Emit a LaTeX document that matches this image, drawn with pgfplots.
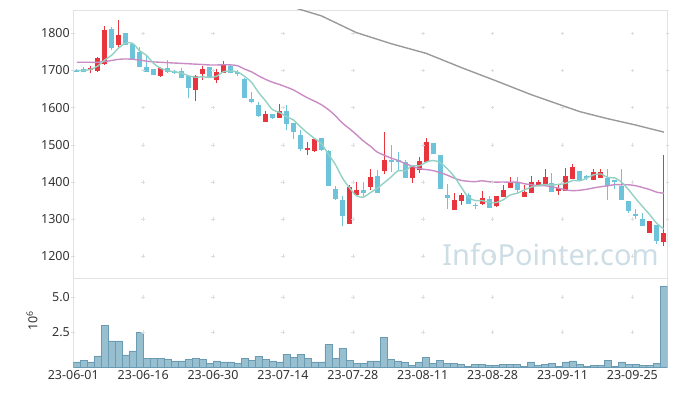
\documentclass[border=0pt]{standalone}
\usepackage{fontspec}
\setmainfont{Noto Sans}
\usepackage{pgfplots}
\pgfplotsset{compat=1.18}
\usepackage{pgfplotstable}

\definecolor{upc}{HTML}{E8343C}
\definecolor{dnc}{HTML}{6CC3DA}
\definecolor{mafc}{HTML}{93D1C5}
\definecolor{matc}{HTML}{C98BC4}
\definecolor{masc}{HTML}{9A9A9A}
\definecolor{volf}{HTML}{97BFCF}
\definecolor{vold}{HTML}{6A9BB3}
\definecolor{axc}{HTML}{E3E3E3}
\definecolor{gridc}{HTML}{DDDDDD}
\definecolor{txt}{HTML}{333333}
\definecolor{wm}{HTML}{CCDDE6}

% up candles (close > open)
\pgfplotstableread{
i o h l c
2 1701 1713 1692 1706
3 1699 1737 1697 1733
4 1718 1820 1716 1808
6 1769 1835 1762 1795
12 1685 1708 1683 1706
17 1648 1688 1617 1685
18 1690 1713 1673 1704
20 1674 1703 1667 1695
21 1694 1725 1692 1715
27 1562 1590 1561 1582
29 1572 1611 1571 1590
33 1487 1507 1473 1490
34 1485 1516 1481 1515
39 1287 1392 1286 1385
40 1366 1400 1365 1377
42 1386 1436 1379 1413
44 1431 1535 1422 1459
48 1411 1443 1398 1438
49 1433 1466 1423 1456
50 1454 1517 1453 1506
54 1326 1369 1324 1351
55 1349 1371 1338 1364
58 1341 1376 1337 1355
60 1335 1361 1333 1360
61 1360 1391 1359 1378
62 1384 1414 1383 1400
64 1360 1391 1359 1373
65 1371 1416 1370 1400
66 1389 1405 1388 1400
67 1396 1436 1395 1412
69 1376 1391 1365 1382
70 1376 1437 1375 1415
71 1409 1447 1408 1438
74 1407 1434 1406 1425
75 1412 1434 1411 1425
82 1264 1295 1263 1294
84 1238 1472 1227 1261
}\upc

% down candles (close < open)
\pgfplotstableread{
i o h l c
0 1700 1705 1695 1697
1 1703 1709 1695 1697
5 1811 1816 1755 1762
7 1800 1801 1768 1770
8 1770 1773 1728 1729
9 1750 1763 1708 1709
10 1709 1742 1697 1698
11 1703 1704 1688 1688
13 1705 1729 1694 1696
14 1698 1700 1690 1694
15 1697 1706 1679 1680
16 1683 1684 1625 1653
19 1709 1710 1683 1684
22 1712 1714 1692 1694
23 1695 1700 1686 1690
24 1677 1680 1625 1626
25 1622 1643 1612 1616
26 1607 1615 1576 1577
28 1582 1583 1569 1572
30 1590 1606 1540 1557
31 1557 1557 1516 1535
32 1526 1540 1483 1490
35 1517 1518 1484 1486
36 1483 1485 1389 1391
37 1380 1390 1352 1354
38 1350 1362 1282 1308
41 1377 1400 1361 1371
43 1415 1432 1369 1370
45 1459 1499 1427 1455
46 1458 1481 1431 1455
47 1454 1459 1410 1411
51 1503 1504 1475 1477
52 1472 1473 1380 1382
53 1364 1393 1328 1357
56 1364 1371 1341 1342
57 1338 1342 1328 1335
59 1353 1361 1329 1330
63 1400 1412 1371 1378
68 1396 1423 1372 1373
72 1429 1430 1404 1406
73 1414 1418 1405 1411
76 1411 1434 1352 1391
77 1403 1405 1382 1400
78 1389 1434 1350 1351
79 1348 1349 1317 1322
80 1313 1326 1301 1309
81 1299 1316 1280 1281
83 1283 1284 1233 1241
}\dnc

% 5-day average
\pgfplotstableread{
i m
0 1700
1 1700
2 1703
3 1712
4 1728.4
5 1741.2
6 1760.8
7 1773.6
8 1772.8
9 1753.0
10 1740.2
11 1718.8
12 1706.0
13 1699.4
14 1696.4
15 1692.8
16 1685.8
17 1681.6
18 1683.0
19 1681.2
20 1684.4
21 1696.6
22 1698.6
23 1696.0
24 1684.2
25 1668.2
26 1641.0
27 1618.4
28 1594.6
29 1587.2
30 1575.4
31 1566.8
32 1548.4
33 1532.0
34 1517.2
35 1503.0
36 1474.2
37 1447.0
38 1410.8
39 1384.8
40 1363.0
41 1359.0
42 1370.8
43 1383.2
44 1398.0
45 1413.6
46 1430.4
47 1430.0
48 1443.6
49 1443.0
50 1453.2
51 1457.6
52 1451.8
53 1435.6
54 1414.6
55 1386.2
56 1359.2
57 1349.8
58 1349.4
59 1345.2
60 1344.4
61 1351.6
62 1364.6
63 1369.2
64 1377.8
65 1385.8
66 1390.2
67 1392.6
68 1391.6
69 1393.4
70 1396.4
71 1404.0
72 1402.8
73 1410.6
74 1419.2
75 1421.2
76 1411.8
77 1410.6
78 1398.4
79 1377.8
80 1354.6
81 1332.6
82 1311.4
83 1288.2
84 1273.4
}\mafive

% 20-day average
\pgfplotstableread{
i m
0 1722
1 1722
2 1722
3 1722
4 1724
5 1727
6 1730
7 1731
8 1730
9 1728
10 1725
11 1723
12 1722
13 1721
14 1720
15 1719
16 1718
17 1717
18 1716
19 1714.8
20 1714.7
21 1715.5
22 1715.0
23 1712.8
24 1703.7
25 1696.4
26 1685.6
27 1676.2
28 1668.3
29 1662.3
30 1655.2
31 1647.6
32 1636.8
33 1626.4
34 1617.5
35 1607.8
36 1594.7
37 1578.1
38 1558.4
39 1543.4
40 1527.4
41 1510.3
42 1496.2
43 1480.2
44 1471.8
45 1463.8
46 1457.6
47 1449.1
48 1442.4
49 1435.8
50 1433.2
51 1430.3
52 1424.9
53 1418.3
54 1410.1
55 1404.0
56 1401.6
57 1400.6
58 1403.0
59 1400.2
60 1399.4
61 1399.7
62 1399.1
63 1399.5
64 1395.2
65 1392.4
66 1389.7
67 1389.7
68 1386.5
69 1382.8
70 1378.2
71 1376.3
72 1377.5
73 1380.2
74 1383.9
75 1387.0
76 1389.4
77 1392.7
78 1392.5
79 1392.1
80 1389.5
81 1384.6
82 1379.3
83 1372.2
84 1369.5
}\matwenty

% long average
\pgfplotstableread{
i m
30 1876
32 1864
35 1847
40 1802
45 1772
50 1746
55 1708
60 1672
65 1635
70 1602
72 1589
76 1570
80 1553
84 1534
}\malong

% volume (millions)
\pgfplotstableread{
i v
0 0.38
1 0.52
2 0.38
3 0.81
4 3.02
5 1.88
6 1.88
7 0.88
8 1.17
9 2.52
10 0.64
11 0.64
12 0.64
13 0.57
14 0.45
15 0.45
16 0.57
17 0.64
18 0.57
19 0.29
20 0.45
21 0.38
22 0.38
23 0.29
24 0.64
25 0.52
26 0.79
27 0.57
28 0.45
29 0.38
30 0.93
31 0.71
32 0.93
33 0.64
34 0.38
35 0.38
36 1.64
37 0.64
38 1.36
39 0.52
40 0.29
41 0.29
42 0.45
43 0.45
44 2.14
45 0.57
46 0.45
47 0.36
48 0.14
49 0.38
50 0.71
51 0.29
52 0.52
53 0.29
54 0.29
55 0.21
56 0.07
57 0.21
58 0.21
59 0.14
60 0.14
61 0.21
62 0.21
63 0.21
64 0.07
65 0.38
66 0.14
67 0.21
68 0.29
69 0.07
70 0.38
71 0.45
72 0.21
73 0.07
74 0.14
75 0.14
76 0.52
77 0.07
78 0.38
79 0.21
80 0.21
81 0.14
82 0.14
83 0.29
84 5.81
}\vol

\pgfplotsset{
  chartbase/.style={
    scale only axis, width=594pt,
    xmin=-0.5, xmax=84.5,
    xtick={-0.5,9.5,...,79.5},
    major tick length=0pt,
    axis line style={draw=axc},
    tick label style={font=\fontsize{12.5}{14}\selectfont, text=txt},
    /pgf/number format/assume math mode=true,
    /pgf/number format/1000 sep={},
    clip=true,
  },
  candle/.style={draw=none, mark=none, forget plot,
    error bars/.cd, y dir=#1, y explicit, error mark=none},
}

\begin{document}
\begin{tikzpicture}[x=1pt,y=1pt]
\useasboundingbox (0,0) rectangle (677,396);
\node[anchor=base, text=wm, font=\fontsize{29}{30}\selectfont] at (550.5pt,130pt) {InfoPointer.com};

\begin{axis}[chartbase,
  at={(73.3pt,117.7pt)}, anchor=south west, height=268.3pt,
  ymin=1140.4, ymax=1862.8,
  ytick={1200,1300,...,1800},
  xticklabels={},
]
\addplot[only marks, mark=+, mark size=1.8pt, color=gridc, forget plot] coordinates {
(9.5,1200)(19.5,1200)(29.5,1200)(39.5,1200)(49.5,1200)(59.5,1200)(69.5,1200)(79.5,1200)
(9.5,1300)(19.5,1300)(29.5,1300)(39.5,1300)(49.5,1300)(59.5,1300)(69.5,1300)(79.5,1300)
(9.5,1400)(19.5,1400)(29.5,1400)(39.5,1400)(49.5,1400)(59.5,1400)(69.5,1400)(79.5,1400)
(9.5,1500)(19.5,1500)(29.5,1500)(39.5,1500)(49.5,1500)(59.5,1500)(69.5,1500)(79.5,1500)
(9.5,1600)(19.5,1600)(29.5,1600)(39.5,1600)(49.5,1600)(59.5,1600)(69.5,1600)(79.5,1600)
(9.5,1700)(19.5,1700)(29.5,1700)(39.5,1700)(49.5,1700)(59.5,1700)(69.5,1700)(79.5,1700)
(9.5,1800)(19.5,1800)(29.5,1800)(39.5,1800)(49.5,1800)(59.5,1800)(69.5,1800)(79.5,1800)
(-0.5,1200)(-0.5,1300)(-0.5,1400)(-0.5,1500)(-0.5,1600)(-0.5,1700)(-0.5,1800)
(84.5,1300)(84.5,1400)(84.5,1500)(84.5,1600)(84.5,1700)(84.5,1800)
};
% wicks
\addplot[candle=plus, error bar style={line width=1pt, color=upc}]
  table[x=i, y=l, y error expr=\thisrow{h}-\thisrow{l}] {\upc};
\addplot[candle=plus, error bar style={line width=1pt, color=dnc}]
  table[x=i, y=l, y error expr=\thisrow{h}-\thisrow{l}] {\dnc};
% bodies
\addplot[candle=both, error bar style={line width=5pt, color=upc}]
  table[x=i, y expr=(\thisrow{o}+\thisrow{c})/2, y error expr=abs(\thisrow{c}-\thisrow{o})/2+0.8] {\upc};
\addplot[candle=both, error bar style={line width=5pt, color=dnc}]
  table[x=i, y expr=(\thisrow{o}+\thisrow{c})/2, y error expr=abs(\thisrow{c}-\thisrow{o})/2+0.8] {\dnc};
% averages
\addplot[color=masc, line width=1.4pt, mark=none] table[x=i, y=m] {\malong};
\addplot[color=matc, line width=1.4pt, mark=none, smooth] table[x=i, y=m] {\matwenty};
\addplot[color=mafc, line width=1.4pt, mark=none, smooth] table[x=i, y=m] {\mafive};
\end{axis}

\begin{axis}[chartbase,
  at={(73.3pt,28.7pt)}, anchor=south west, height=89pt,
  ymin=0, ymax=6.357,
  ytick={2.5,5}, yticklabels={2.5,5.0},
  xticklabels={23-06-01,23-06-16,23-06-30,23-07-14,23-07-28,23-08-11,23-08-28,23-09-11,23-09-25},
]
\addplot[only marks, mark=+, mark size=1.8pt, color=gridc, forget plot] coordinates {
(-0.5,2.5)(9.5,2.5)(19.5,2.5)(29.5,2.5)(39.5,2.5)(49.5,2.5)(59.5,2.5)(69.5,2.5)(79.5,2.5)
(-0.5,5)(9.5,5)(19.5,5)(29.5,5)(39.5,5)(49.5,5)(59.5,5)(69.5,5)(79.5,5)
};
\addplot[ybar, bar width=1, fill=volf, draw=vold, line width=0.6pt, mark=none] table[x=i, y=v] {\vol};
\end{axis}

\node[rotate=90, text=txt, font=\fontsize{12.5}{14}\selectfont] at (32pt,75pt) {10\textsuperscript{6}};
\end{tikzpicture}
\end{document}
